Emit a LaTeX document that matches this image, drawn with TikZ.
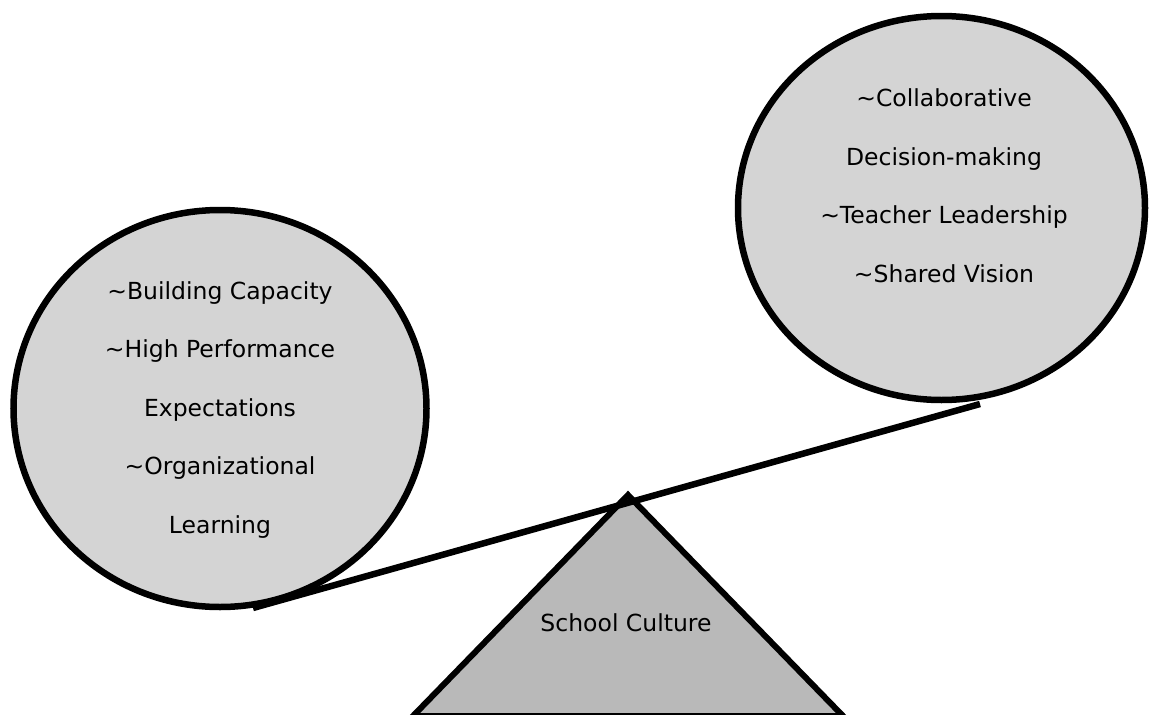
\documentclass[tikz,border=0pt]{standalone}
\usepackage{fontspec}
\newfontfamily\dvsans{DejaVu Sans}
\usetikzlibrary{shapes.geometric}
\begin{document}
\begin{tikzpicture}[x=1pt,y=-1pt,
  bubble/.style={ellipse, draw=black, line width=6.5pt, fill=gray!34, inner sep=0pt},
  bubbletext/.style={align=center, font=\dvsans\fontsize{23.5}{58.5}\selectfont, text=black},
  lever/.style={draw=black, line width=6.5pt},
  fulcrum/.style={draw=black, line width=6pt, fill=gray!55, line join=miter}]
\useasboundingbox (0,0) rectangle (1152,715);
% bubbles
\node[bubble, minimum width=413pt, minimum height=397pt] (lc) at (220,408.5) {};
\node[bubble, minimum width=407pt, minimum height=384pt] (rc) at (941.5,208) {};
\node[bubbletext] (lt) at (220,410) {\textasciitilde Building Capacity\\\textasciitilde High Performance\\Expectations\\\textasciitilde Organizational\\Learning};
\node[bubbletext] (rt) at (944,185.5) {\textasciitilde Collaborative\\Decision-making\\\textasciitilde Teacher Leadership\\\textasciitilde Shared Vision};
% fulcrum
\coordinate (apex) at (628,495);
\coordinate (bl) at (413,716);
\coordinate (br) at (843,716);
\draw[fulcrum] (apex) -- (br) -- (bl) -- cycle;
\node[bubbletext] (sc) at (626,623) {School Culture};
% lever
\coordinate (lend) at (253,608);
\coordinate (rend) at (980,404);
\draw[lever] (lend) -- (rend);
\end{tikzpicture}
\end{document}
